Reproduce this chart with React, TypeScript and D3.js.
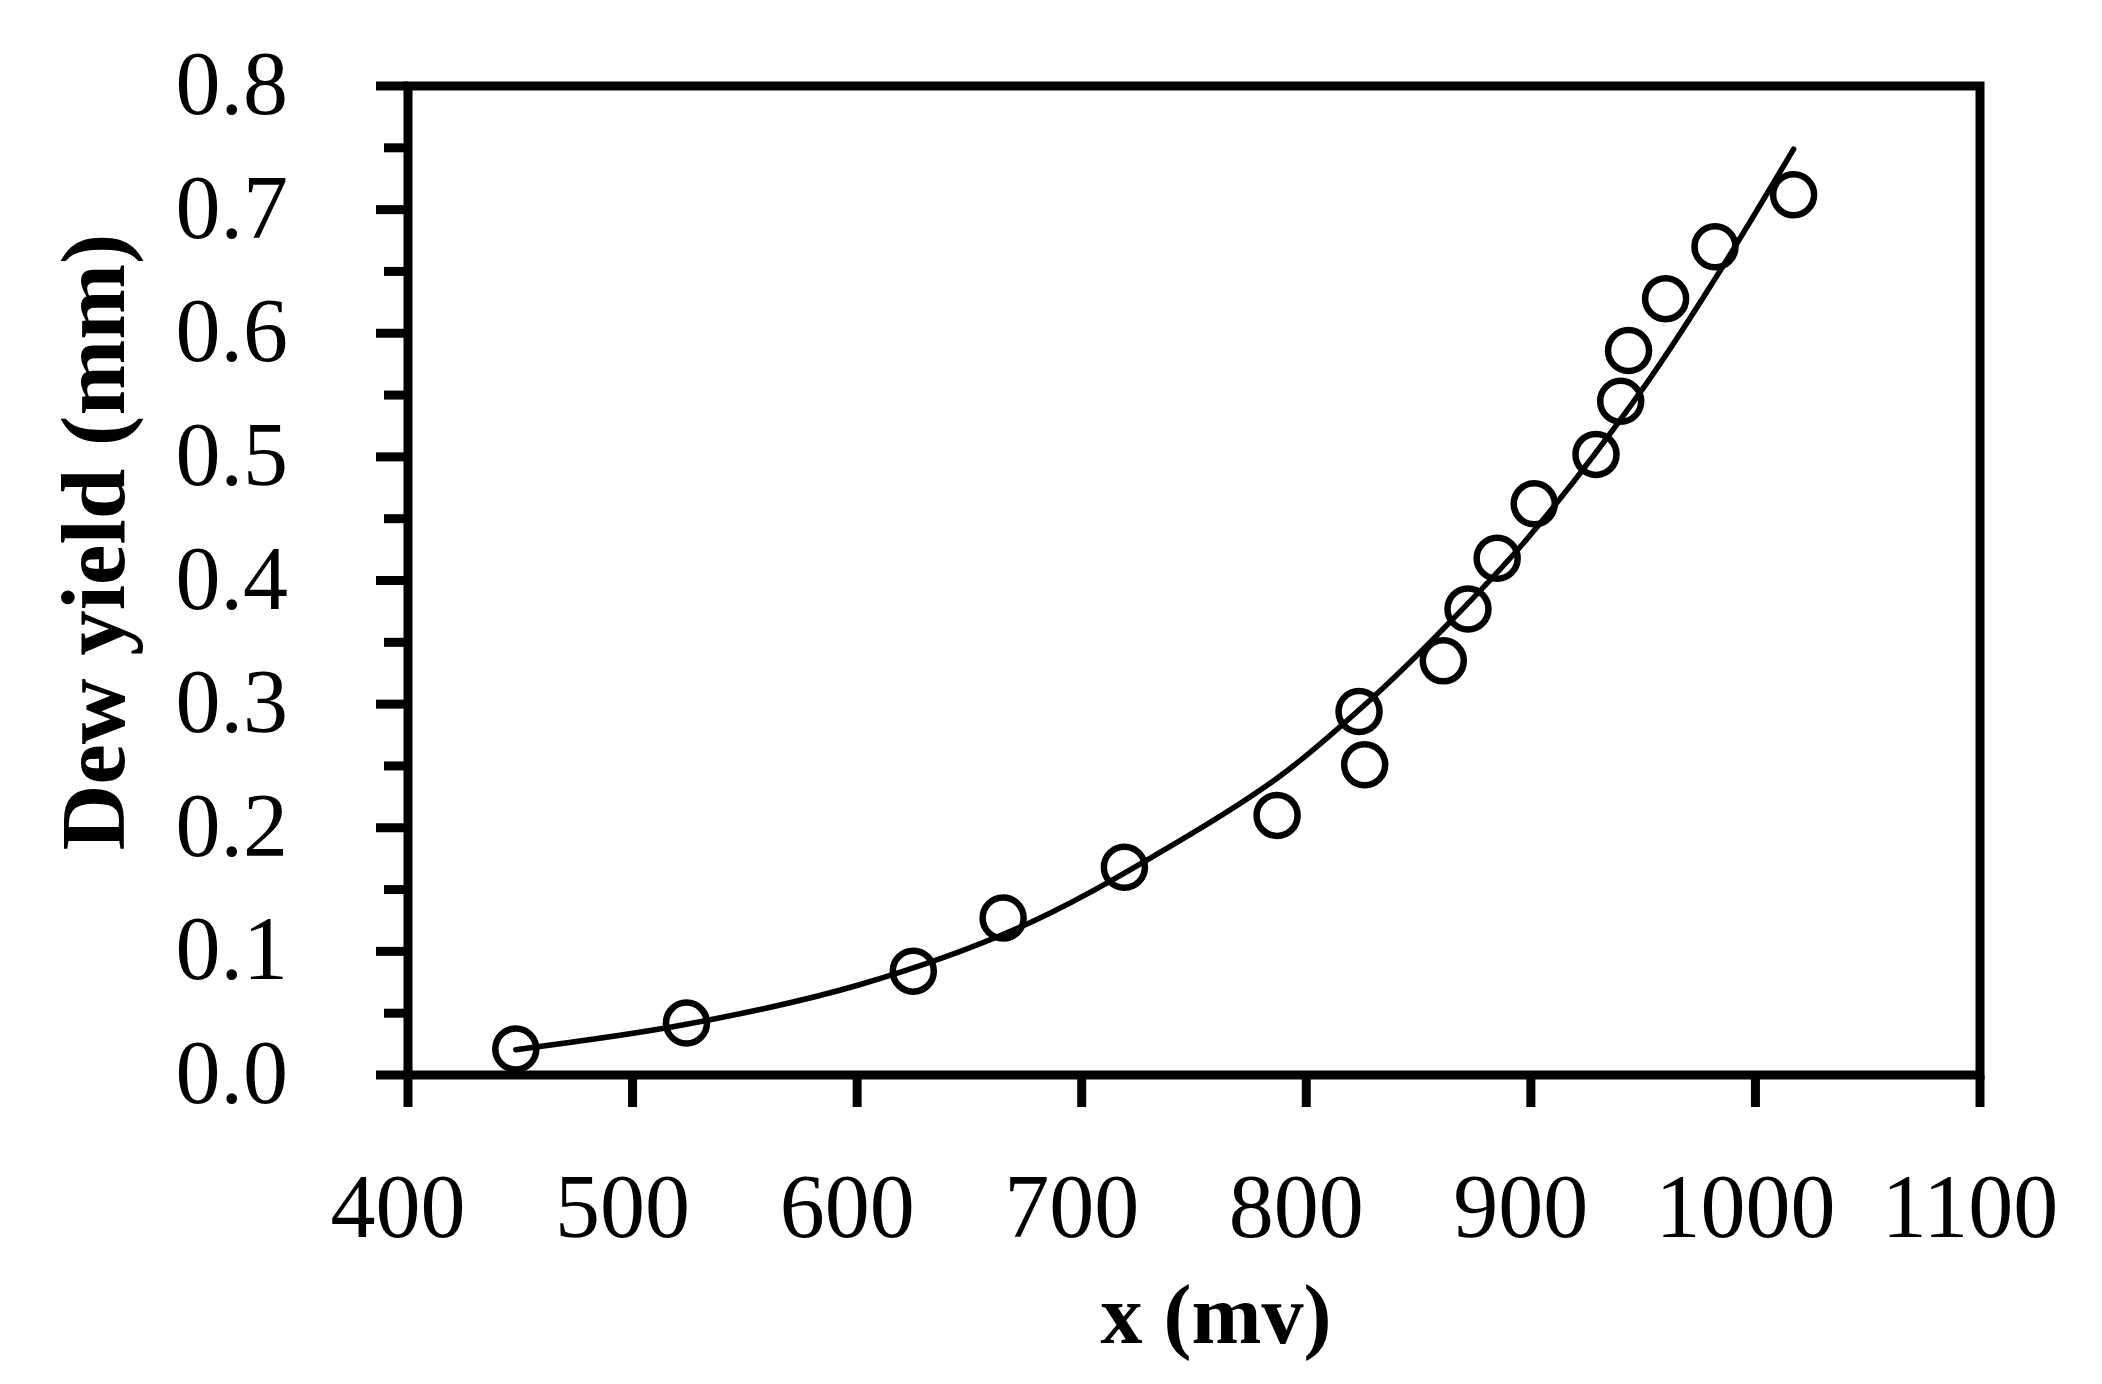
import React from "react";
import * as d3 from "d3";

// Measured dew yield data
const obsX = [448, 524, 625, 665, 719, 787, 823.5, 826, 861, 872, 885, 901.5, 929, 940, 943.5, 960, 982, 1017];
const obsY = [0.021, 0.042, 0.084, 0.127, 0.168, 0.210, 0.294, 0.251, 0.335, 0.377, 0.418, 0.462, 0.502, 0.545, 0.586, 0.628, 0.670, 0.712];

// Fitted trend curve
const fitX = [448, 524, 601, 673, 732, 787, 830, 860, 898, 949, 982, 1017];
const fitY = [0.0205, 0.041, 0.073, 0.120, 0.177, 0.240, 0.306, 0.359, 0.433, 0.553, 0.644, 0.749];

const xTicks = [400, 500, 600, 700, 800, 900, 1000, 1100];
const yTicks = [0, 0.1, 0.2, 0.3, 0.4, 0.5, 0.6, 0.7, 0.8];
const yMinorTicks = [0.05, 0.15, 0.25, 0.35, 0.45, 0.55, 0.65, 0.75];

const xTitle = "x (mv)";
const yTitle = "Dew yield (mm)";

const W = 2102;
const H = 1384;
const FONT = "'Liberation Serif', 'Times New Roman', serif";

export default function App() {
  const x = d3.scaleLinear().domain([400, 1100]).range([408, 1980]);
  const y = d3.scaleLinear().domain([0, 0.8]).range([1075, 86]);
  const fmt = d3.format(".1f");

  const fitPts: [number, number][] = fitX.map((v, i) => [v, fitY[i]]);
  const linePath = d3
    .line<[number, number]>()
    .x((d) => x(d[0]))
    .y((d) => y(d[1]))
    .curve(d3.curveCatmullRom.alpha(0.5))(fitPts) as string;

  const x0 = x(400);
  const x1 = x(1100);
  const y0 = y(0);
  const y1 = y(0.8);
  const sw = 9;

  return (
    <svg
      width={W}
      height={H}
      viewBox={`0 0 ${W} ${H}`}
      style={{ position: "absolute", left: 0, top: 0, background: "#fff" }}
    >
      <rect x={0} y={0} width={W} height={H} fill="#fff" />
      {/* frame */}
      <rect x={x0} y={y1} width={x1 - x0} height={y0 - y1} fill="none" stroke="#000" strokeWidth={sw} />
      {/* y major ticks */}
      {yTicks.map((t) => (
        <line key={"ym" + t} x1={x0 - 32} x2={x0} y1={y(t)} y2={y(t)} stroke="#000" strokeWidth={sw} />
      ))}
      {/* y minor ticks */}
      {yMinorTicks.map((t) => (
        <line key={"yn" + t} x1={x0 - 24} x2={x0} y1={y(t)} y2={y(t)} stroke="#000" strokeWidth={sw} />
      ))}
      {/* x ticks */}
      {xTicks.map((t) => (
        <line key={"xm" + t} x1={x(t)} x2={x(t)} y1={y0} y2={y0 + 32} stroke="#000" strokeWidth={sw} />
      ))}
      {/* y tick labels */}
      {yTicks.map((t) => (
        <text
          key={"yl" + t}
          x={288}
          y={y(t) + 28}
          textAnchor="end"
          fontFamily={FONT}
          fontSize={90}
          fill="#000"
        >
          {fmt(t)}
        </text>
      ))}
      {/* x tick labels */}
      {xTicks.map((t) => (
        <text
          key={"xl" + t}
          x={x(t) - 10}
          y={1237}
          textAnchor="middle"
          fontFamily={FONT}
          fontSize={90}
          fill="#000"
        >
          {t}
        </text>
      ))}
      {/* axis titles */}
      <text
        x={1216}
        y={1343}
        textAnchor="middle"
        fontFamily={FONT}
        fontWeight="bold"
        fontSize={84}
        fill="#000"
      >
        {xTitle}
      </text>
      <text
        transform={`translate(124, 542) rotate(-90)`}
        textAnchor="middle"
        fontFamily={FONT}
        fontWeight="bold"
        fontSize={91}
        fill="#000"
      >
        {yTitle}
      </text>
      {/* fit curve */}
      <path d={linePath} fill="none" stroke="#000" strokeWidth={5.5} strokeLinecap="round" />
      {/* observations */}
      {obsX.map((v, i) => (
        <circle key={"p" + i} cx={x(v)} cy={y(obsY[i])} r={20.5} fill="none" stroke="#000" strokeWidth={6.5} />
      ))}
    </svg>
  );
}
